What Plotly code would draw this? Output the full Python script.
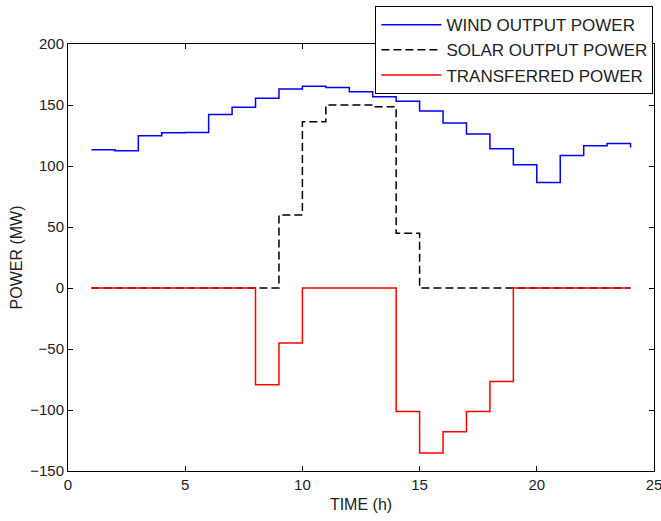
import plotly.graph_objects as go

hours = list(range(1, 25))
wind = [113.3, 112.5, 124.8, 127.3, 127.5, 142.2, 148.2, 155.6, 163.2, 165.4, 164.3, 160.8,
        156.7, 153.0, 145.1, 135.2, 126.2, 114.2, 101.1, 86.4, 108.7, 116.6, 118.5, 115.2]
solar = [0, 0, 0, 0, 0, 0, 0, 0, 59.9, 136.2, 150.0, 150.0,
         148.5, 44.9, 0, 0, 0, 0, 0, 0, 0, 0, 0, 0]
transferred = [0, 0, 0, 0, 0, 0, 0, -79.4, -45.0, 0, 0, 0,
               0, -101.2, -135.3, -117.8, -101.2, -76.6, 0, 0, 0, 0, 0, 0]

x_ticks = [0, 5, 10, 15, 20, 25]
y_ticks = [-150, -100, -50, 0, 50, 100, 150, 200]

regular = "Liberation Sans, Arial, sans-serif"

fig = go.Figure()
fig.add_trace(go.Scatter(x=hours, y=wind, mode="lines", line_shape="hv",
                         line=dict(color="#0000FF", width=1.5), name="WIND OUTPUT POWER"))
fig.add_trace(go.Scatter(x=hours, y=solar, mode="lines", line_shape="hv",
                         line=dict(color="#000000", width=1.5, dash="8px,4px"),
                         name="SOLAR OUTPUT POWER"))
fig.add_trace(go.Scatter(x=hours, y=transferred, mode="lines", line_shape="hv",
                         line=dict(color="#FF0000", width=1.5), name="TRANSFERRED POWER"))

axis_common = dict(showgrid=False, zeroline=False, showline=True, linecolor="black",
                   linewidth=1, mirror="ticks", ticks="inside", ticklen=5,
                   tickcolor="black", automargin=False, ticklabeloverflow="allow",
                   tickfont=dict(family=regular, size=15, color="#222"))

fig.update_xaxes(range=[0, 25], tickvals=x_ticks, title=dict(text="TIME (h)",
                 font=dict(family=regular, size=16, color="#222"), standoff=6), **axis_common)
fig.update_yaxes(range=[-150, 200], tickvals=y_ticks, title=dict(text="POWER (MW)",
                 font=dict(family=regular, size=16, color="#222"), standoff=3), **axis_common)

fig.update_layout(
    width=661, height=521,
    margin=dict(l=68, r=7, t=43, b=50),
    plot_bgcolor="white", paper_bgcolor="white",
    font=dict(family=regular, color="#222"),
    legend=dict(x=0.999, xanchor="right", y=1.086, yanchor="top",
                bgcolor="white", bordercolor="black", borderwidth=1,
                font=dict(family=regular, size=17, color="#222"),
                itemwidth=60, tracegroupgap=0),
    showlegend=True,
)

fig.write_html("out.html")
